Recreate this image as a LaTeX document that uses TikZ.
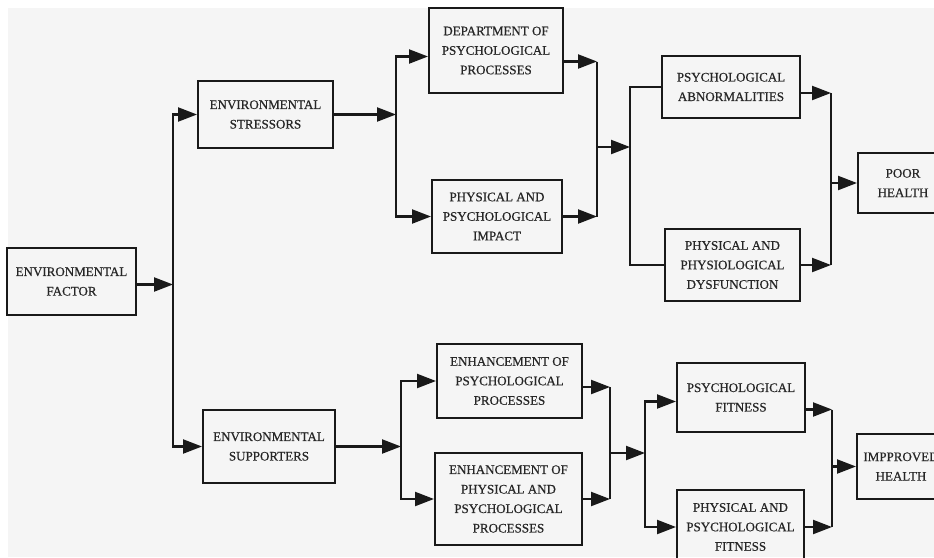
\documentclass[tikz,border=0pt]{standalone}
\usepackage{fontspec}
\setmainfont{Liberation Serif}
\newfontfamily\boxfont[FakeBold=0.5]{Liberation Serif}
\usetikzlibrary{arrows.meta}

\begin{document}
\begin{tikzpicture}[x=1pt,y=-1pt]
	\tikzset{
	block/.style={draw=black!90, text=black!85, line width=2pt, align=center, inner sep=2pt, font=\boxfont\fontsize{13}{19.5}\selectfont},
	arrow/.style={-{Triangle[length=19pt,width=14pt]}, line width=2.2pt, black!90},
	link/.style={line width=2.2pt, black!90}}

	\useasboundingbox (0,0) rectangle (934,557);
	\clip (0,0) rectangle (934,557);
	\fill[black!4] (8,8) rectangle (934,557);

	%boxes
	\node[block, minimum width=129, minimum height=67] (factor) at (71.5,281.5) {ENVIRONMENTAL\\FACTOR};
	\node[block, minimum width=135, minimum height=67] (stressors) at (265.5,114.5) {ENVIRONMENTAL\\STRESSORS};
	\node[block, minimum width=132, minimum height=73] (supporters) at (269,446.5) {ENVIRONMENTAL\\SUPPORTERS};

	\node[block, minimum width=134, minimum height=85] (department) at (496,50.5) {DEPARTMENT OF\\PSYCHOLOGICAL\\PROCESSES};
	\node[block, minimum width=130, minimum height=73] (impact) at (497,216.5) {PHYSICAL AND\\PSYCHOLOGICAL\\IMPACT};
	\node[block, minimum width=138, minimum height=62] (abnormal) at (731,87) {PSYCHOLOGICAL\\ABNORMALITIES};
	\node[block, minimum width=135, minimum height=72] (dysfunction) at (732.5,265) {PHYSICAL AND\\PHYSIOLOGICAL\\DYSFUNCTION};
	\node[block, minimum width=90, minimum height=60] (poor) at (903,183) {POOR\\HEALTH};

	\node[block, minimum width=145, minimum height=74] (enhpsych) at (509.5,381) {ENHANCEMENT OF\\PSYCHOLOGICAL\\PROCESSES};
	\node[block, minimum width=147, minimum height=92] (enhphys) at (508.5,499) {ENHANCEMENT OF\\PHYSICAL AND\\PSYCHOLOGICAL\\PROCESSES};
	\node[block, minimum width=128, minimum height=69] (psyfit) at (741,397.5) {PSYCHOLOGICAL\\FITNESS};
	\node[block, minimum width=127, minimum height=74] (phyfit) at (740.5,527) {PHYSICAL AND\\PSYCHOLOGICAL\\FITNESS};
	\node[block, minimum width=88, minimum height=65] (improved) at (901,466.5) {IMPPROVED\\HEALTH};

	%split from factor
	\draw[arrow] ([yshift=-3pt]factor.east) -- ++(36,0) coordinate (j1);
	\draw[arrow] (j1) |- (stressors.west);
	\draw[arrow] (j1) |- (supporters.west);

	%stressors
	\draw[arrow] (stressors.east) -- ++(62,0) coordinate (j2);
	\draw[arrow] (j2) |- ([yshift=-6pt]department.west);
	\draw[arrow] (j2) |- (impact.west);

	\coordinate (m1) at (597,147);
	\draw[arrow] ([yshift=-11pt]department.east) coordinate (d1) -- (d1 -| m1);
	\draw[arrow] (impact.east) coordinate (i1) -- (i1 -| m1);
	\draw[link] (m1 |- d1) -- (m1 |- i1);
	\draw[arrow] (m1) -- ++(33,0) coordinate (j3);
	\draw[link] (j3) |- (abnormal.west);
	\draw[link] (j3) |- (dysfunction.west);

	\coordinate (m2) at (831,183);
	\draw[arrow] ([yshift=-6pt]abnormal.east) coordinate (a1) -- (a1 -| m2);
	\draw[arrow] (dysfunction.east) coordinate (f1) -- (f1 -| m2);
	\draw[link] (m2 |- a1) -- (m2 |- f1);
	\draw[arrow] (m2) -- (poor.west);

	%supporters
	\draw[arrow] (supporters.east) -- ++(65,0) coordinate (j4);
	\draw[arrow] (j4) |- (enhpsych.west);
	\draw[arrow] (j4) |- (enhphys.west);

	\coordinate (m3) at (610,453);
	\draw[arrow] ([yshift=-6pt]enhpsych.east) coordinate (e1) -- (e1 -| m3);
	\draw[arrow] (enhphys.east) coordinate (e2) -- (e2 -| m3);
	\draw[link] (m3 |- e1) -- (m3 |- e2);
	\draw[arrow] (m3) -- ++(35,0) coordinate (j5);
	\draw[arrow] (j5) |- ([yshift=-4pt]psyfit.west);
	\draw[arrow] (j5) |- (phyfit.west);

	\coordinate (m4) at (832,466.5);
	\draw[arrow] ([yshift=-12pt]psyfit.east) coordinate (p1) -- (p1 -| m4);
	\draw[arrow] (phyfit.east) coordinate (p2) -- (p2 -| m4);
	\draw[link] (m4 |- p1) -- (m4 |- p2);
	\draw[arrow] (m4) -- (improved.west);
\end{tikzpicture}
\end{document}
